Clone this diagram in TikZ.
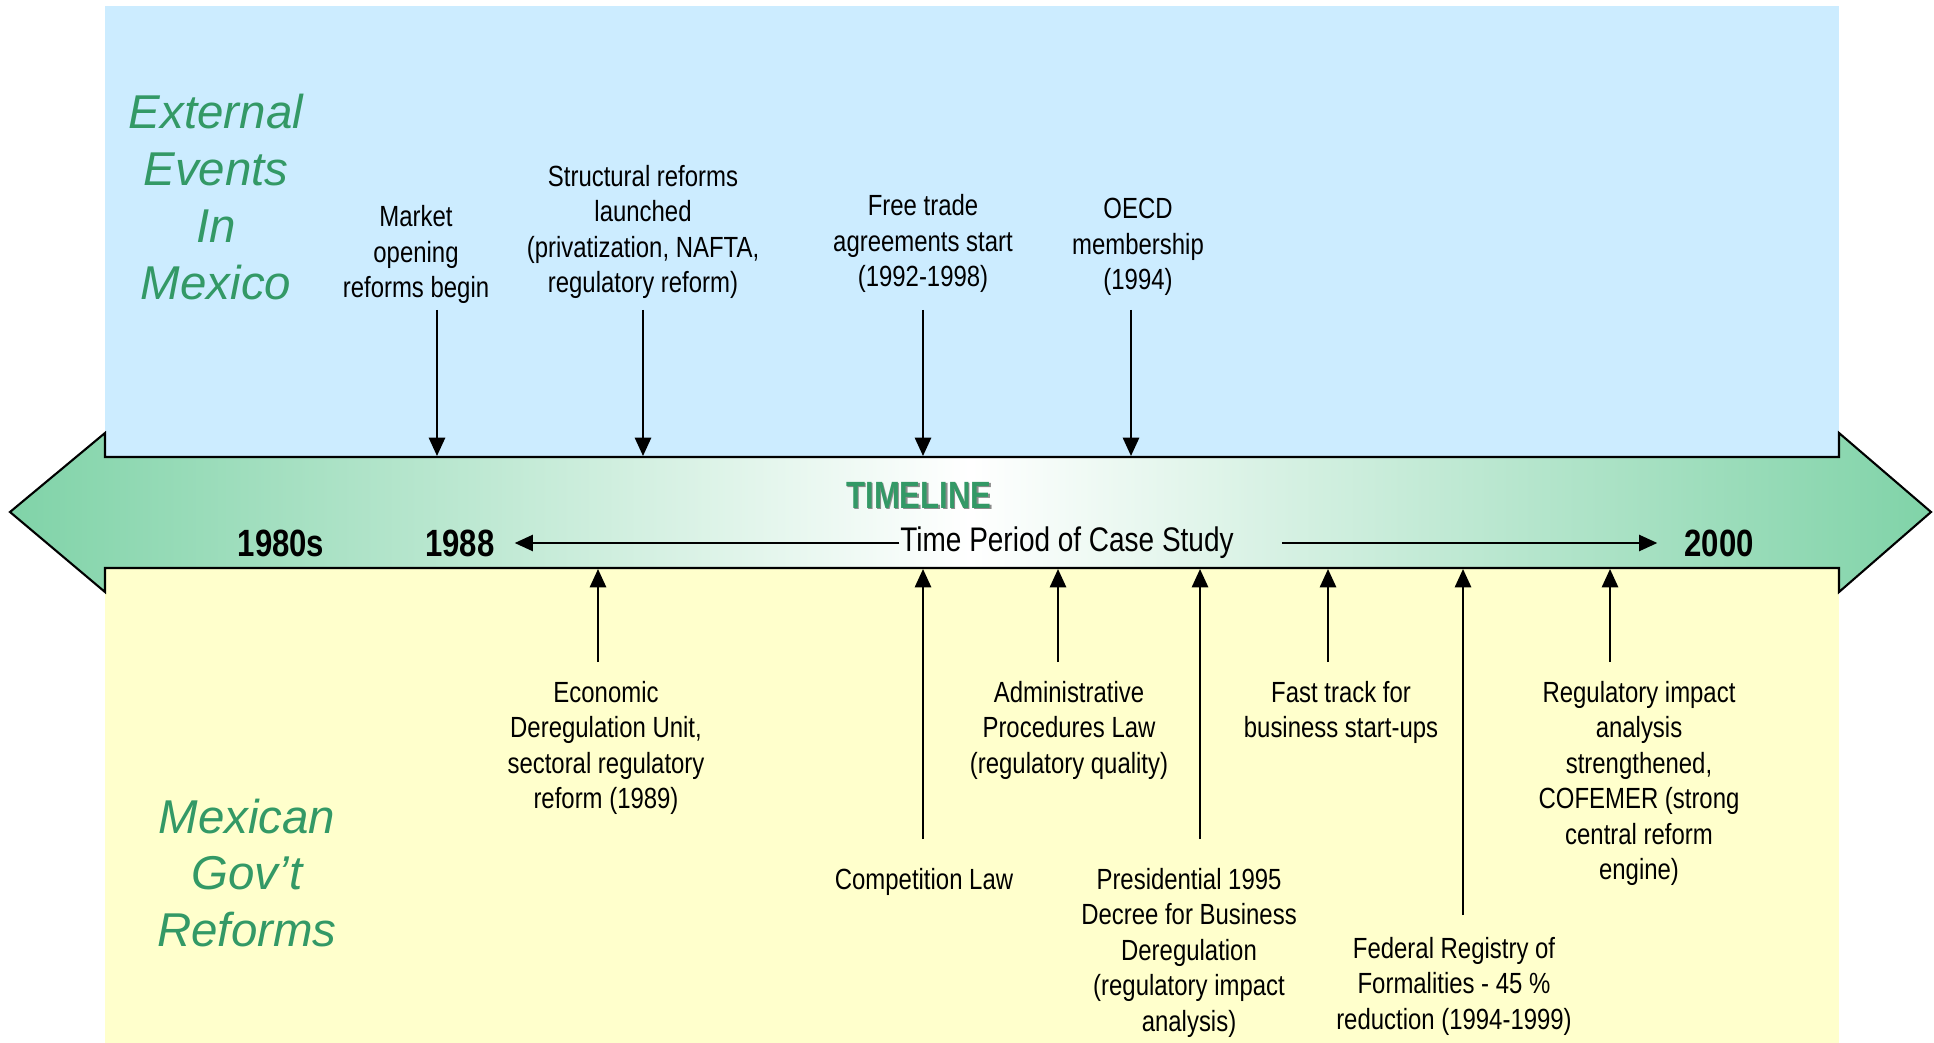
\documentclass[tikz,border=0pt]{standalone}
\usepackage{fontspec}
\setmainfont{Liberation Sans}
\newfontfamily\narrowfont[FakeStretch=0.82]{Liberation Sans}
\usetikzlibrary{arrows.meta}

\definecolor{eventblue}{RGB}{204, 236, 255}
\definecolor{reformyellow}{RGB}{255, 255, 204}
\definecolor{titlegreen}{RGB}{51, 153, 102}
\definecolor{bandgreen}{RGB}{128, 211, 168}

\begin{document}
\begin{tikzpicture}[x=0.01cm, y=-0.01cm, >={Triangle[length=5.2pt,width=4.6pt]}, line width=0.6pt,
        title/.style={font=\fontsize{13.5}{16.2}\selectfont\itshape, text=titlegreen, align=center, inner sep=0pt},
        event/.style={font=\narrowfont\fontsize{8.3}{10.1}\selectfont, align=center, inner sep=0pt},
        year/.style={font=\narrowfont\bfseries\fontsize{10.8}{13}\selectfont, inner sep=0pt}]

    \useasboundingbox (0,0) rectangle (1934,1043);
    \fill[eventblue] (105,6) rectangle (1839,457);
    \fill[reformyellow] (105,568) rectangle (1839,1043);

    % --- timeline band ---
    \draw[left color=bandgreen, right color=bandgreen, middle color=white]
        (10,512) -- (105,433) -- (105,457) -- (1839,457) -- (1839,433) -- (1931,512)
        -- (1839,592) -- (1839,568) -- (105,568) -- (105,592) -- cycle;

    % --- side titles ---
    \node[title] (ext) at (216,197) {External\\Events\\In\\Mexico};
    \node[title] (gov) at (247,873) {Mexican\\Gov’t\\Reforms};

    % --- years and case study period ---
    \node[year] (y80) at (281,543) {1980s};
    \node[year] (y88) at (460,543) {1988};
    \node[year] (y00) at (1719,543) {2000};
    \node[year, text=black!45] at (920.5,496.5) {TIMELINE};
    \node[year, text=titlegreen] (tl) at (919,495) {TIMELINE};
    \node[font=\narrowfont\fontsize{9.7}{12}\selectfont, inner sep=0pt] (period) at (1067,543) {Time Period of Case Study};
    \draw[->] (period.west) -- ([xshift=5.4pt]y88.east);
    \draw[->, shorten <=13.4pt] (period.east) -- ([xshift=-7.4pt]y00.west);

    % --- external events ---
    \node[event, anchor=south] (mkt) at (416,305) {Market\\opening\\reforms begin};
    \node[event, anchor=south] (struct) at (643,300) {Structural reforms\\launched\\(privatization, NAFTA,\\regulatory reform)};
    \node[event, anchor=south] (fta) at (923,294) {Free trade\\agreements start\\(1992-1998)};
    \node[event, anchor=south] (oecd) at (1138,297) {OECD\\membership\\(1994)};

    \coordinate (mkt-a) at (437,310);   \coordinate (mkt-b) at (437,456);
    \coordinate (struct-a) at (643,310); \coordinate (struct-b) at (643,456);
    \coordinate (fta-a) at (923,310);   \coordinate (fta-b) at (923,456);
    \coordinate (oecd-a) at (1131,310); \coordinate (oecd-b) at (1131,456);
    \draw[->] (mkt-a) -- (mkt-b);
    \draw[->] (struct-a) -- (struct-b);
    \draw[->] (fta-a) -- (fta-b);
    \draw[->] (oecd-a) -- (oecd-b);

    % --- government reforms ---
    \node[event, anchor=north] (edu) at (606,680) {Economic\\Deregulation Unit,\\sectoral regulatory\\reform (1989)};
    \node[event, anchor=north] (comp) at (924,867) {Competition Law};
    \node[event, anchor=north] (apl) at (1069,680) {Administrative\\Procedures Law\\(regulatory quality)};
    \node[event, anchor=north] (decree) at (1189,867) {Presidential 1995\\Decree for Business\\Deregulation\\(regulatory impact\\analysis)};
    \node[event, anchor=north] (fast) at (1341,680) {Fast track for\\business start-ups};
    \node[event, anchor=north] (registry) at (1454,936) {Federal Registry of\\Formalities - 45 \%\\reduction (1994-1999)};
    \node[event, anchor=north] (ria) at (1639,680) {Regulatory impact\\analysis\\strengthened,\\COFEMER (strong\\central reform\\engine)};

    \coordinate (edu-a) at (598,662);       \coordinate (edu-b) at (598,569);
    \coordinate (comp-a) at (923,839);      \coordinate (comp-b) at (923,569);
    \coordinate (apl-a) at (1058,662);      \coordinate (apl-b) at (1058,569);
    \coordinate (decree-a) at (1200,839);   \coordinate (decree-b) at (1200,569);
    \coordinate (fast-a) at (1328,662);     \coordinate (fast-b) at (1328,569);
    \coordinate (registry-a) at (1463,915); \coordinate (registry-b) at (1463,569);
    \coordinate (ria-a) at (1610,662);      \coordinate (ria-b) at (1610,569);
    \draw[->] (edu-a) -- (edu-b);
    \draw[->] (comp-a) -- (comp-b);
    \draw[->] (apl-a) -- (apl-b);
    \draw[->] (decree-a) -- (decree-b);
    \draw[->] (fast-a) -- (fast-b);
    \draw[->] (registry-a) -- (registry-b);
    \draw[->] (ria-a) -- (ria-b);

\end{tikzpicture}
\end{document}
